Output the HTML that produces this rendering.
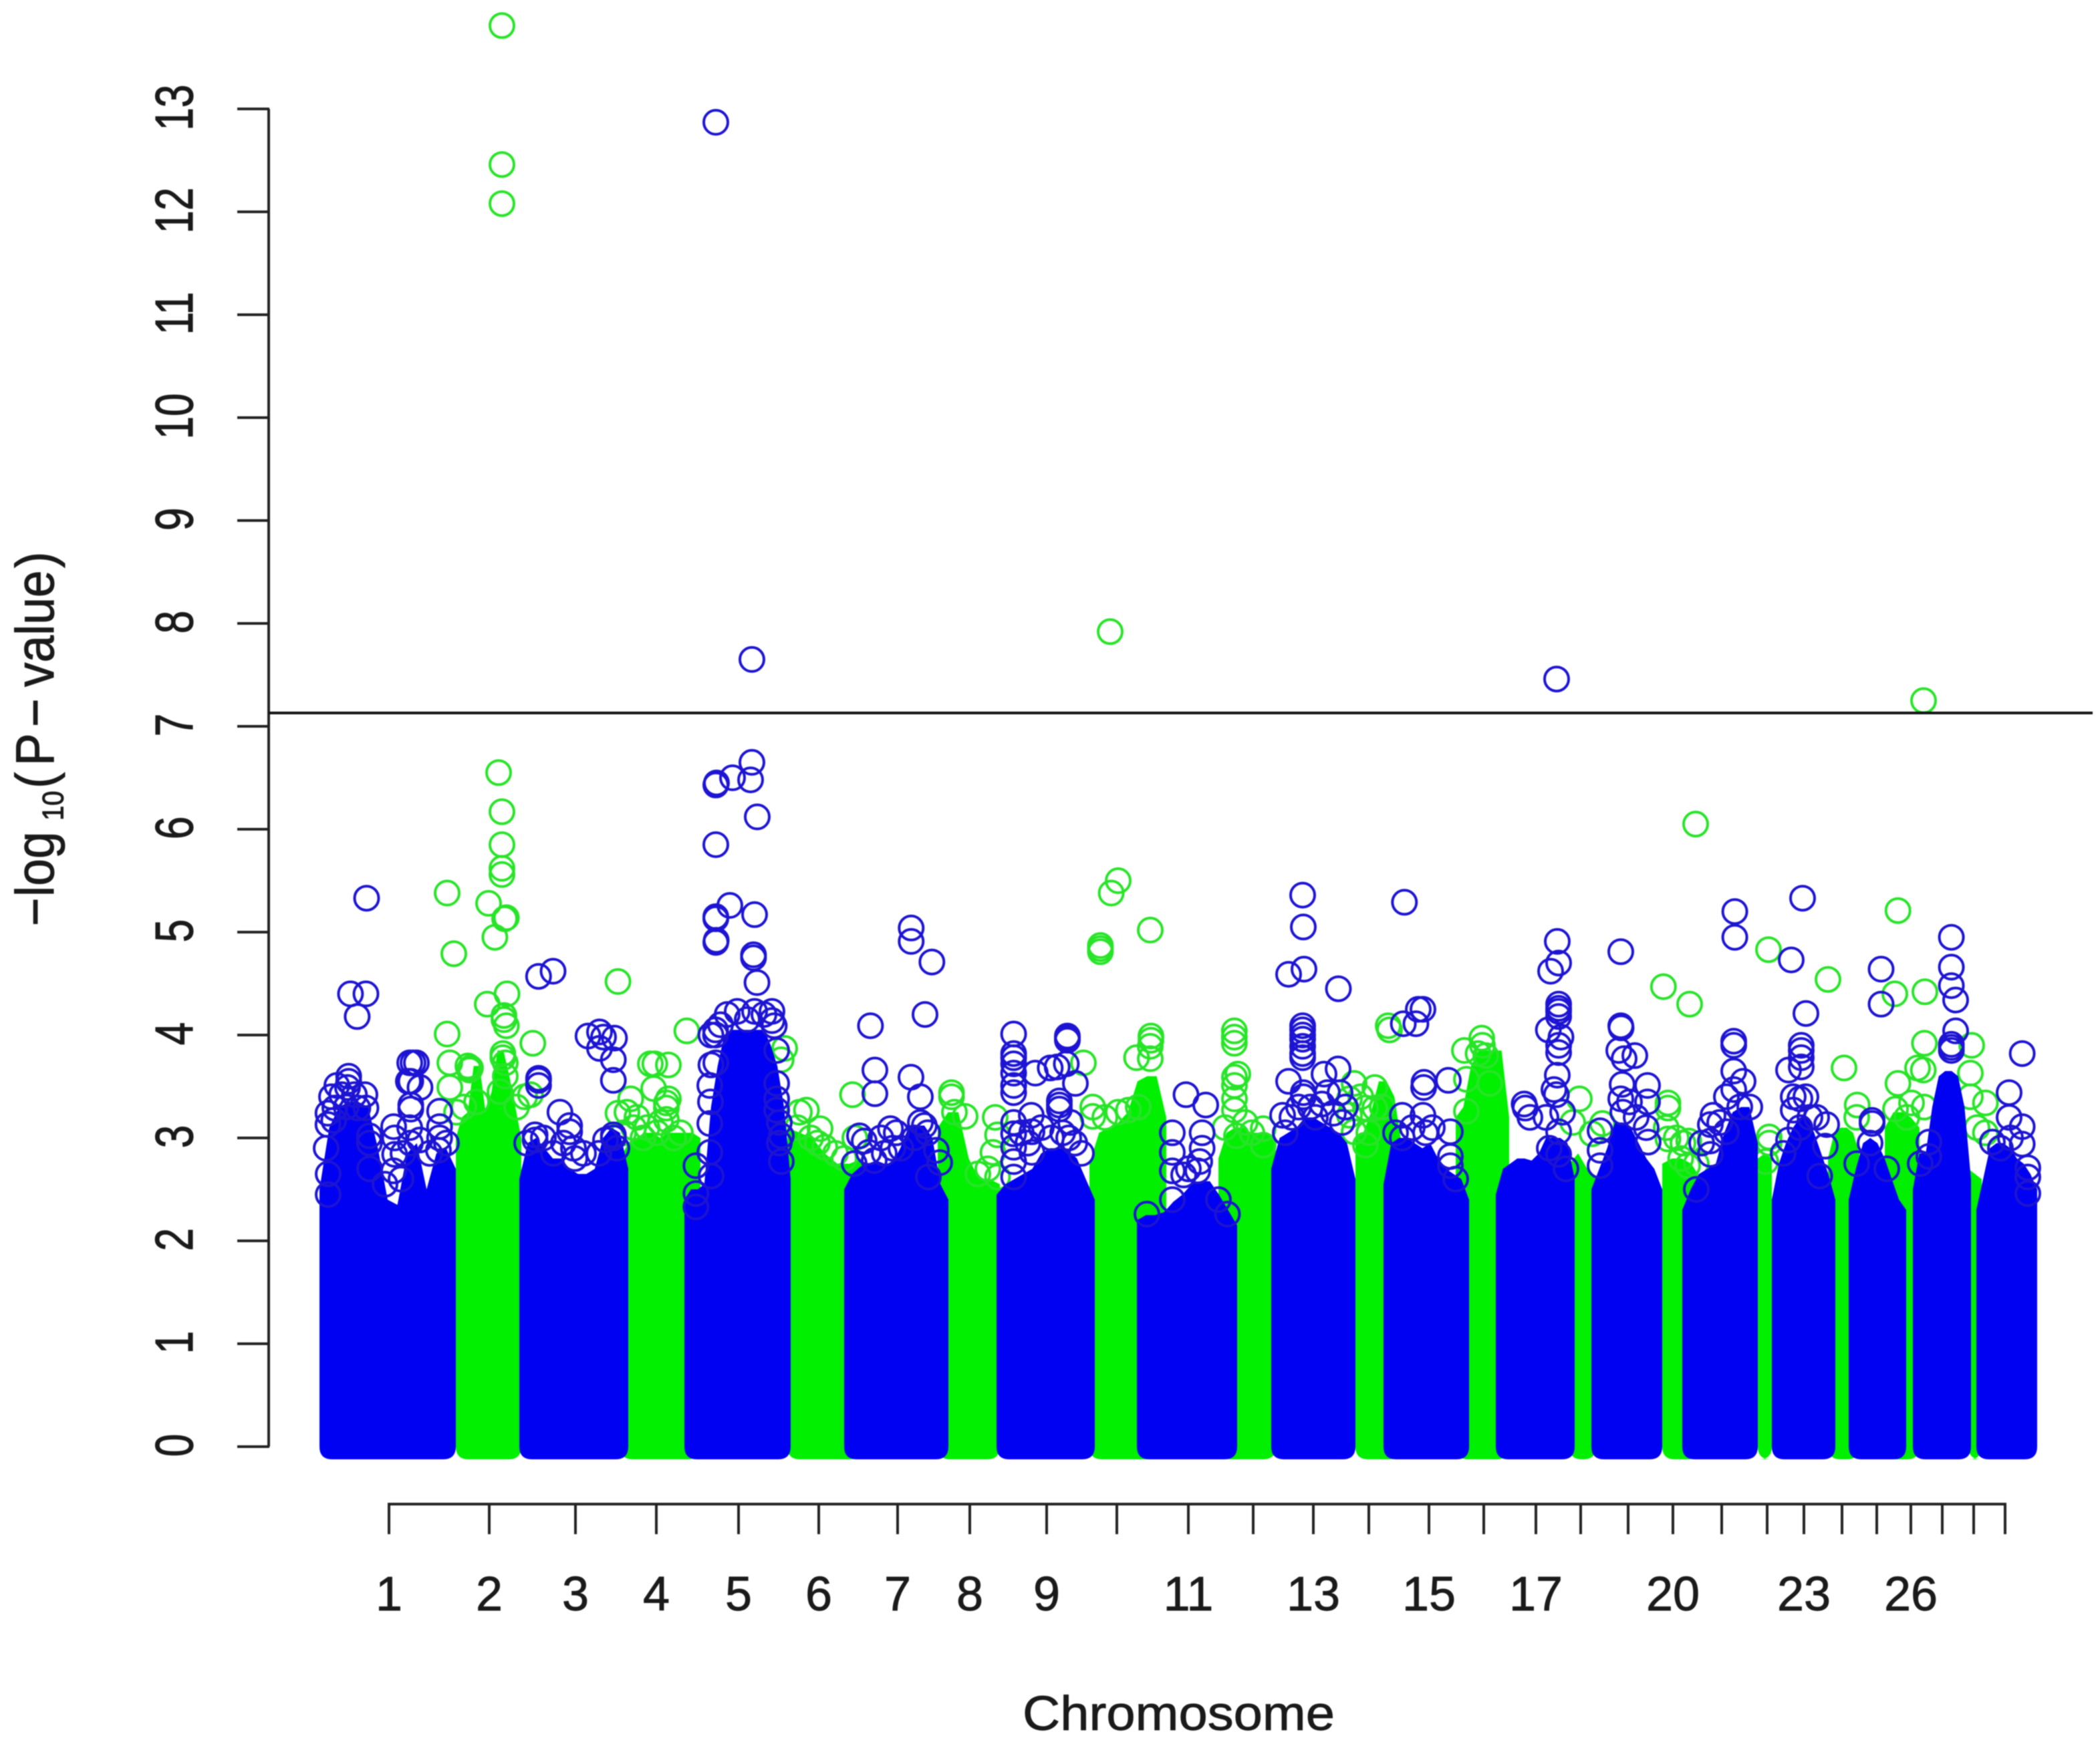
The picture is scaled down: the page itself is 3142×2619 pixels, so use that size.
<!DOCTYPE html>
<html lang="en">
<head>
<meta charset="utf-8">
<title>Manhattan plot</title>
<style>
html,body{margin:0;padding:0;background:#fff;}
svg{display:block;filter:blur(0.8px);}
text{font-family:"Liberation Sans",Arial,sans-serif;fill:#1a1a1a;stroke:#1a1a1a;stroke-width:0.9px;}
</style>
</head>
<body>
<svg id="chart" xmlns="http://www.w3.org/2000/svg" width="3142" height="2619" viewBox="0 0 3142 2619">
<rect x="0" y="0" width="3142" height="2619" fill="#ffffff"/>
<g id="greenMass"></g>
<g id="greenRings"></g>
<g id="blueMass"></g>
<g id="blueRings"></g>
<g id="yAxis"></g>
<g id="xAxis"></g>
<line id="threshold" stroke="#111111" stroke-width="4"/>
<text x="1530" y="2589" font-size="72" textLength="467" lengthAdjust="spacingAndGlyphs">Chromosome</text>
<g transform="translate(80,0) rotate(-90) scale(1,1.11)">
<text x="-1386" y="0" font-size="73">−</text>
<text x="-1342" y="0" font-size="73">log</text>
<text x="-1228" y="13" font-size="40">10</text>
<text x="-1180" y="0" font-size="73">(</text>
<text x="-1146" y="0" font-size="73">P</text>
<text x="-1088" y="0" font-size="73">−</text>
<text x="-1028" y="0" font-size="73">value</text>
<text x="-850" y="0" font-size="73">)</text>
</g>
</svg>
<script>
const yTicks = [0,1,2,3,4,5,6,7,8,9,10,11,12,13];
const xTickPos = [104,254,383,504,627,747,865,973,1088,1193,1300,1397,1487,1570,1660,1742,1820,1887,1958,2025,2098,2166,2221,2278,2330,2381,2428,2475,2522];
const xTickLabels = ["1","2","3","4","5","6","7","8","9","","11","","13","","15","","17","","","20","","","23","","","26","","",""];
const thresholdValue = 7.13;

const chrStart = [0,204,299,450,546,700,785,925,1013,1152,1223,1345,1424,1550,1592,1700,1760,1870,1903,2009,2039,2152,2173,2257,2288,2342,2384,2467,2479];
const chrEnd = [204,302,462,570,705,812,941,1018,1160,1267,1373,1431,1550,1620,1720,1780,1878,1910,2009,2067,2152,2173,2268,2304,2374,2394,2471,2487,2570];
const chrTops = [
[2.5,3.1,3.3,3.35,3.35,3.3,2.9,2.4,2.35,2.85,2.95,2.5,2.85,2.9,2.7],
[3.0,3.2,3.25,3.7,3.7,3.25,3.45,3.85,3.85,3.6,3.3,3.0],
[2.6,2.95,3.0,2.9,2.8,2.8,2.7,2.65,2.65,2.7,3.0,3.1,3.05,2.7],
[2.8,2.95,3.0,3.05,3.05,3.0,3.05,3.05,3.05,3.05,3.0],
[2.4,2.5,2.5,2.55,3.3,3.7,4.0,4.05,4.05,4.05,4.05,4.05,4.05,3.9,3.7,3.3,2.6],
[3.1,3.05,3.0,2.85,2.75,2.75,2.8],
[2.5,2.65,2.72,2.75,2.78,2.75,2.75,2.9,3.1,3.12,3.12,3.0,2.55,2.4],
[3.1,3.25,3.25,2.8,2.6,2.6,2.55],
[2.45,2.55,2.6,2.65,2.7,2.85,2.9,2.9,2.88,2.8,2.6,2.4],
[2.75,3.05,3.1,3.15,3.25,3.55,3.6,3.6,3.2],
[2.2,2.25,2.25,2.28,2.38,2.45,2.55,2.58,2.58,2.45,2.3,2.15],
[2.8,3.05,3.1,3.1,3.05,3.05,3.05,3.0],
[2.7,3.0,3.05,3.1,3.2,3.2,3.15,3.1,3.05,2.95,2.6],
[3.0,3.05,3.25,3.55,3.55,3.4,2.9],
[2.55,2.95,3.0,3.0,2.95,2.9,2.95,2.8,2.7,2.65,2.6,2.4],
[3.2,3.3,3.7,3.85,3.85,3.85,3.85,3.2],
[2.45,2.7,2.75,2.8,2.8,2.78,2.85,3.0,3.0,3.0,2.95,2.6],
[2.75,2.85,2.7,2.6],
[2.5,2.7,2.9,3.15,3.15,3.1,2.95,2.8,2.7,2.5],
[2.75,2.8,2.8,2.75,2.6],
[2.3,2.5,2.65,2.7,2.75,3.05,3.25,3.3,3.3,2.95],
[2.8,2.85,2.8],
[2.4,2.75,2.95,3.1,3.2,3.2,3.05,2.85,2.65,2.4],
[2.8,3.05,3.1,3.1,3.05,2.85],
[2.4,2.7,2.95,3.0,2.95,2.8,2.6,2.4,2.3],
[3.1,3.25,3.25,3.2,3.1],
[2.5,2.85,2.85,3.3,3.6,3.65,3.65,3.6,3.3,2.6],
[2.7,2.6],
[2.3,2.6,2.9,2.95,2.95,2.9,2.8,2.75,2.65,2.5]
];

const greenPoints = [
[273,13.81],[273,12.46],[273,12.08],[268,6.55],[273,6.17],[273,5.85],[273,5.62],[273,5.56],[191,5.38],[253,5.28],[279.6,5.14],[277,5.13],[262.4,4.95],[201,4.79],
[280.6,4.40],[251,4.30],[276,4.19],[276,4.15],[279.6,4.09],[191,4.01],[319.2,3.92],[274.4,3.82],[274.4,3.78],[278,3.73],[195,3.73],[224.5,3.66],[222,3.70],[226,3.68],[195,3.49],[278,3.60],[216,3.30],[307,3.40],[315.7,3.42],[270,3.45],[235,3.35],[205,3.25],[295,3.3],
[446.6,4.52],[501.7,3.72],[495,3.72],[500,3.48],[465.6,3.38],[519,3.29],[519,3.18],[446.6,3.24],[484,3.0],[505,3.05],[460,3.25],[475,3.2],[530,3.0],[519,3.34],[490,3.1],[549.6,4.04],[522,3.71],[522,3.38],[455,3.05],[470,3.1],[510,3.15],[540,3.05],
[696,3.87],[690.8,3.76],[718,3.25],[728.6,3.27],[749,3.09],[756,2.91],[772,2.85],[735,3.0],[797.5,3.42],[801,3.0],[715,3.1],[745,2.95],[785,2.8],[945.6,3.44],[945.6,3.40],[966,3.21],[1011,3.2],[1014.5,3.03],[1007.6,2.86],[1014.5,2.62],[950,3.25],[985,2.65],[1000,2.7],
[1195,5.50],[1184.6,5.38],[1243,5.02],[1168.4,4.87],[1168.4,4.81],[1168.4,4.84],[1143,3.73],[1157,3.30],[1157,3.21],[1244,3.99],[1244,3.95],[1243,3.89],[1222.5,3.78],[1243,3.77],[1210.4,3.27],[1225,3.3],[1175,3.2],[1195,3.25],
[1368.8,4.04],[1368.8,3.98],[1368.8,3.92],[1374,3.62],[1369,3.59],[1369,3.51],[1369,3.38],[1369,3.27],[1412,3.09],[1412,2.93],[1372,3.02],[1395,3.05],[1355,3.1],[1385,3.15],
[1548,3.53],[1579,3.49],[1541,3.38],[1565,3.29],[1579,3.29],[1548,3.06],[1565,2.93],[1541,3.22],[1601,4.05],[1599,4.09],[1590,3.3],[1558,3.4],[1570,3.05],
[1739,3.97],[1713,3.85],[1733.5,3.82],[1716,3.57],[1751,3.53],[1716,3.26],[1740,3.9],[1745,3.8],
[2010.8,4.47],[2050,4.30],[1885,3.38],[1875,3.15],[1904,3.04],[1919.5,3.14],[2017.6,3.34],[2017.6,3.29],[2017.6,2.99],[2048.7,2.97],[2036.6,2.8],[2047,2.73],[2030,3.0],[2060,2.75],[2015,3.1],[2040,2.95],
[2361.7,5.21],[2168,4.83],[2257,4.54],[2357,4.40],[2402,4.42],[2401.3,3.92],[2472,3.90],[2391,3.68],[2399.6,3.66],[2281,3.68],[2361.7,3.53],[2470,3.63],[2300.7,3.32],[2382,3.34],[2401,3.30],[2358,3.28],[2492.6,3.34],[2470,3.40],[2492.6,3.05],[2169,3.01],[2169,2.95],[2164,2.77],[2375,3.2],[2300,3.2],[2480,3.1],
[1183,7.92],[2400,7.25],[2059,6.05]
];

const bluePoints = [
[70.5,5.33],[46.4,4.40],[69.5,4.40],[56.4,4.18],[43.7,3.60],[43.7,3.55],[42,3.49],[33.3,3.42],[52.3,3.42],[23,3.29],[57.4,3.29],[21.3,3.17],[40,3.3],[74.7,3.02],[74.7,2.95],[13,2.65],[13,2.45],[12.7,3.24],[12.7,3.13],[18,3.4],[26,3.51],[68,3.42],[69.5,3.29],[10,2.9],[75,2.7],
[140,3.73],[145,3.73],[135,3.73],[136.6,3.55],[133,3.55],[150.4,3.49],[136.6,3.32],[136.6,3.28],[179.7,3.26],[179.7,3.11],[179.7,3.0],[111,3.11],[112.5,3.0],[112.5,2.84],[111,2.68],[135,3.1],[150,2.98],[136,2.95],[122,2.6],[178,2.88],[125,2.85],[98,2.55],[165,2.85],[190,2.95],
[327.8,4.57],[349.5,4.62],[401.8,3.99],[419,4.03],[441.4,3.97],[419,3.87],[439.7,3.76],[439.7,3.56],[425,3.98],[327.8,3.56],[327.8,3.58],[327.8,3.51],[359.8,3.25],[374.3,3.12],[374.3,3.06],[322.6,3.03],[322.6,2.98],[439.7,3.03],[439.7,3.0],[380,2.9],[382,2.8],[350,2.85],[418,2.85],[428,2.98],[310,2.95],[335,3.0],[395,2.85],[365,2.95],[445,2.9],
[593,12.87],[647,7.65],[647,6.65],[618,6.50],[593,6.43],[594,6.45],[645,6.48],[655,6.12],[593,5.85],[614,5.26],[651,5.17],[593,5.13],[593,5.15],
[593,4.90],[593.6,4.92],[649.4,4.78],[649.4,4.75],[654.6,4.51],[625,4.23],[651,4.23],[677,4.23],[677,4.14],[592.6,4.05],[592.6,4.0],[585.7,4.0],[680.4,4.09],[585.7,3.71],[593,3.73],[584,3.51],[684,3.53],[684,3.85],[584,3.14],[684,3.38],[691,3.02],[691,2.77],[563.3,2.73],[563.3,2.46],[563.3,2.33],[584,2.86],[586,2.63],[684,3.27],[610,4.2],[665,4.2],[600,4.1],[640,4.15],[585,3.35],[688,3.15],[688,2.95],
[824.4,4.09],[906,4.20],[885.3,5.04],[885.3,4.91],[916.3,4.71],[831,3.66],[831,3.43],[885,3.59],[899,3.40],[899,3.15],[854.3,3.09],[863,3.05],[808,3.02],[815,2.97],[821.6,2.86],[830,2.78],[923,2.88],[928,2.76],[911,2.62],[845,2.85],[870,2.9],[890,3.0],[910,3.05],[800,2.75],[840,3.0],[858,2.9],[905,3.12],
[1038.6,4.01],[1038.6,3.82],[1038.6,3.78],[1038.6,3.72],[1038.6,3.63],[1038.6,3.51],[1038.6,3.44],[1038.6,3.15],[1038.6,3.04],[1038.6,2.91],[1038.6,2.77],[1038.6,2.62],
[1119,3.97],[1119,3.99],[1119,3.95],[1071,3.63],[1093.3,3.68],[1103.7,3.69],[1117.4,3.72],[1131,3.53],[1107,3.32],[1107,3.36],[1107,3.28],[1065,3.22],[1124,3.15],[1112,3.05],[1066,3.06],[1066,2.86],[1121,3.0],[1080,3.1],[1095,3.0],[1050,3.05],[1060,2.95],[1130,2.95],[1140,2.85],
[1296.5,3.42],[1326,3.32],[1276,3.05],[1320.6,3.05],[1276,2.86],[1320.6,2.90],[1317,2.77],[1276,2.68],[1293,2.64],[1314,2.68],[1276,2.4],[1238,2.26],[1358.5,2.26],[1345,2.4],[1300,2.7],
[1471,5.36],[1472,5.05],[1450,4.59],[1473,4.64],[1524.5,4.45],[1471,4.09],[1471,4.05],[1471,4.0],[1471,3.96],[1471,3.89],[1471,3.82],[1471,3.78],[1450,3.55],[1503,3.62],[1524,3.67],[1472,3.44],[1472,3.40],[1508,3.44],[1527,3.44],[1455,3.2],[1517,3.24],[1482.5,3.3],[1500,3.33],[1441,3.22],[1530,3.15],[1490,3.2],[1465,3.3],[1535,3.3],[1445,3.05],
[1623.3,5.29],[1651,4.25],[1644,4.25],[1640.5,4.11],[1621.6,4.11],[1652.6,3.54],[1652,3.49],[1689,3.56],[1620,3.22],[1651,3.22],[1620,3.0],[1692,3.06],[1692,2.82],[1692,2.73],[1635,3.1],[1665,3.1],[1610,3.05],[1655,3.05],[1700,2.6],
[1852,4.91],[1854,4.70],[1842,4.62],[1854,4.30],[1854,4.26],[1854,4.23],[1854,4.18],[1838.6,4.05],[1857.5,3.98],[1854,3.90],[1854,3.83],[1852,3.61],[1847,3.47],[1850.6,3.42],[1854,3.06],[1854,2.84],[1840,2.9],[1804,3.29],[1811,3.2],[1802.4,3.33],[1835,3.2],[1860,3.25],[1865,2.7],
[1947,4.81],[1947,4.09],[1947.5,4.07],[1944,3.85],[1968,3.80],[1952,3.77],[1949,3.52],[1987,3.51],[1987,3.35],[1947,3.38],[1988,2.96],[1916,3.07],[1916,2.88],[1916,2.73],[1950,3.25],[1970,3.2],[1960,3.35],[1985,3.1],
[2117.6,5.20],[2117.6,4.95],[2116,3.94],[2116,3.90],[2116,3.65],[2116,3.47],[2085,3.22],[2081,3.13],[2081,2.97],[2081,2.84],[2105,3.4],[2105,3.06],[2130,3.55],[2125,3.3],[2068,2.95],[2095,3.15],[2140,3.3],[2060,2.5],
[2219,5.33],[2202,4.73],[2224,4.21],[2217,3.90],[2217,3.85],[2217,3.78],[2217,3.69],[2198,3.66],[2224,3.40],[2215,3.38],[2255,3.13],[2253,2.92],[2198,2.98],[2244.6,2.63],[2205,3.4],[2205,3.27],[2230,3.2],[2215,3.1],[2240,3.2],[2190,2.85],
[2336.5,4.64],[2336.5,4.30],[2323,3.14],[2323,3.17],[2441.6,4.95],[2441.6,4.66],[2441.6,4.48],[2448,4.34],[2448,4.04],[2441.6,3.91],[2441.6,3.88],[2441.6,3.85],[1851,7.46],[2320,2.95],[2345,2.7],[2300,2.75],
[2547.6,3.82],[2528,3.44],[2528,3.20],[2547.6,3.11],[2547.6,2.94],[2503,2.96],[2408,2.96],[2408,2.82],[2556,2.71],[2556,2.62],[2556,2.46],[2530,3.0],[2515,2.9],[2395,2.75]
];

const svgNS = "http://www.w3.org/2000/svg";
const xScale = function (pos) { return 478 + pos; };
const yScale = function (val) { return 2165 - 154 * val; };
const markerRadius = 18;

function draw(tag, parent, attrs) {
  const el = document.createElementNS(svgNS, tag);
  for (const k in attrs) el.setAttribute(k, attrs[k]);
  parent.appendChild(el);
  return el;
}

function massPath(i) {
  const xs = xScale(chrStart[i]);
  const xe = xScale(chrEnd[i]);
  const yb = yScale(0) + markerRadius + 1;
  const r = markerRadius + 1;
  const tops = chrTops[i];
  let d = "M" + xs + " " + (yb - r);
  tops.forEach(function (v, k) {
    const px = xs + (xe - xs) * k / (tops.length - 1);
    d += " L" + px.toFixed(1) + " " + yScale(v).toFixed(1);
  });
  d += " L" + xe + " " + (yb - r) + " Q" + xe + " " + yb + " " + (xe - r) + " " + yb;
  d += " L" + (xs + r) + " " + yb + " Q" + xs + " " + yb + " " + xs + " " + (yb - r) + " Z";
  return d;
}

const greenMass = document.getElementById("greenMass");
const blueMass = document.getElementById("blueMass");
chrTops.forEach(function (tops, i) {
  const isBlue = i % 2 === 0;
  const el = draw("path", isBlue ? blueMass : greenMass, {
    d: massPath(i),
    fill: isBlue ? "#0000f2" : "#00f000"
  });
  
  
});

const greenRings = document.getElementById("greenRings");
greenPoints.forEach(function (p) {
  const el = draw("circle", greenRings, {
    cx: xScale(p[0]),
    cy: yScale(p[1]).toFixed(1),
    r: markerRadius,
    fill: "none",
    stroke: "#28e428",
    "stroke-width": 4
  });
  
  
});

const blueRings = document.getElementById("blueRings");
bluePoints.forEach(function (p) {
  const el = draw("circle", blueRings, {
    cx: xScale(p[0]),
    cy: yScale(p[1]).toFixed(1),
    r: markerRadius,
    fill: "none",
    stroke: "#1c14d2",
    "stroke-width": 4
  });
  
  
});

const yAxis = document.getElementById("yAxis");
const yLine = draw("line", yAxis, {
  x1: 402, x2: 402,
  y1: yScale(yTicks[0]), y2: yScale(yTicks[yTicks.length - 1]),
  stroke: "#222222", "stroke-width": 4
});


yTicks.forEach(function (t) {
  const tick = draw("line", yAxis, {
    x1: 355, x2: 403, y1: yScale(t), y2: yScale(t),
    stroke: "#222222", "stroke-width": 4
  });
  
  
  const label = draw("text", yAxis, {
    transform: "translate(288," + (yScale(t) - 2) + ") rotate(-90) scale(1,1.29)",
    "text-anchor": "middle",
    "font-size": 62
  });
  label.textContent = String(t);
  
  
});

const xAxis = document.getElementById("xAxis");
const xLine = draw("line", xAxis, {
  x1: xScale(xTickPos[0]) - 2, x2: xScale(xTickPos[xTickPos.length - 1]) + 2,
  y1: 2251, y2: 2251,
  stroke: "#222222", "stroke-width": 4
});


xTickPos.forEach(function (p, i) {
  const tick = draw("line", xAxis, {
    x1: xScale(p), x2: xScale(p), y1: 2250, y2: 2296,
    stroke: "#222222", "stroke-width": 4
  });
  
  
  if (xTickLabels[i]) {
    const label = draw("text", xAxis, {
      x: xScale(p), y: 2410, "text-anchor": "middle", "font-size": 72
    });
    label.textContent = xTickLabels[i];
    
    
  }
});

const th = document.getElementById("threshold");
th.setAttribute("x1", 402);
th.setAttribute("x2", 3131);
th.setAttribute("y1", yScale(thresholdValue));
th.setAttribute("y2", yScale(thresholdValue));
</script>
</body>
</html>
